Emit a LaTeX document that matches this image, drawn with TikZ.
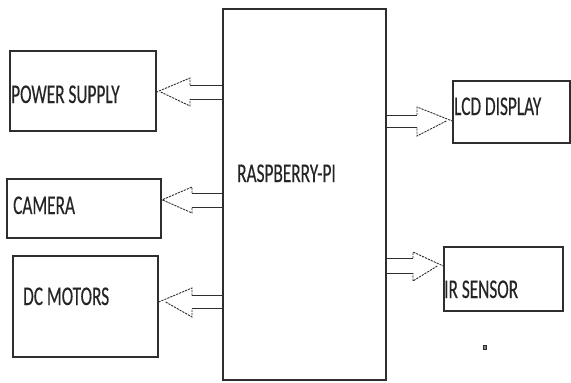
\documentclass[tikz,border=0pt]{standalone}
\usepackage{fontspec}
\usetikzlibrary{calc}
\newfontfamily\boxfont[FakeStretch=0.64,FakeBold=0.3]{Carlito}
\definecolor{linec}{HTML}{2E2E2E}
\definecolor{textc}{HTML}{252525}
\tikzset{
  blockbox/.style={draw=linec, line width=1.4pt, inner sep=0pt, fill=white},
  lbl/.style={anchor=base west, inner sep=0pt, text=textc, font=\boxfont\fontsize{27}{30}\selectfont},
  shaftline/.style={draw=linec, line width=0.9pt},
  headline/.style={draw=linec, line width=0.9pt, dash pattern=on 2.2pt off 1pt},
}
\begin{document}
\begin{tikzpicture}[x=1pt,y=-1pt]
\useasboundingbox (0,0) rectangle (571,383);
\fill[white] (0,0) rectangle (571,383);
% boxes
\node[blockbox, minimum width=146pt, minimum height=80pt]  (ps)  at (83,91) {};
\node[blockbox, minimum width=154pt, minimum height=59pt]  (cam) at (84,208.5) {};
\node[blockbox, minimum width=145pt, minimum height=101pt] (dc)  at (85.5,306.5) {};
\node[blockbox, minimum width=163pt, minimum height=371pt] (rpi) at (304.5,194.5) {};
\node[blockbox, minimum width=117pt, minimum height=62pt]  (lcd) at (511.5,112) {};
\node[blockbox, minimum width=119pt, minimum height=64pt]  (ir)  at (503.5,279) {};
% labels
\node[lbl] (psl)  at (11,103)  {POWER SUPPLY};
\node[lbl] (caml) at (13,214)  {CAMERA};
\node[lbl] (dcl)  at (23,305)  {DC MOTORS};
\node[lbl] (rpil) at (237,182) {RASPBERRY-PI};
\node[lbl] (lcdl) at (454,115) {LCD DISPLAY};
\node[lbl] (irl)  at (444,298) {IR SENSOR};
% left arrows (from rpi to left boxes)
\coordinate (a1s) at (rpi.west |- 0,92);
\draw[shaftline] ($(a1s)+(0,-7)$) -- (190,85) (190,99) -- ($(a1s)+(0,7)$);
\draw[headline] (190,85) -- (190,78) -- (ps.east |- 0,92) ++(4,0) -- (190,106) -- (190,99);
\coordinate (a2s) at (rpi.west |- 0,200);
\draw[shaftline] ($(a2s)+(0,-7)$) -- (192,193) (192,207) -- ($(a2s)+(0,7)$);
\draw[headline] (192,193) -- (192,187) -- (cam.east |- 0,200) ++(1,0) -- (192,213) -- (192,207);
\coordinate (a3s) at (rpi.west |- 0,302);
\draw[shaftline] ($(a3s)+(0,-6.5)$) -- (192,295.5) (192,308.5) -- ($(a3s)+(0,6.5)$);
\draw[headline] (192,295.5) -- (192,288) -- (dc.east |- 0,302) ++(7,0) -- (192,317) -- (192,308.5);
% right arrows
\coordinate (a4s) at (rpi.east |- 0,121);
\draw[shaftline] ($(a4s)+(0,-6)$) -- (417,115) (417,127) -- ($(a4s)+(0,6)$);
\draw[headline] (417,115) -- (417,107) -- (lcd.west |- 0,121) ++(-6,0) -- (417,136) -- (417,127);
\coordinate (a5s) at (rpi.east |- 0,265.5);
\draw[shaftline] ($(a5s)+(0,-7.5)$) -- (413,258) (413,273) -- ($(a5s)+(0,7.5)$);
\draw[headline] (413,258) -- (413,252) -- (ir.west |- 0,266) ++(-6,0) -- (413,281) -- (413,273);
% small mark
\draw[draw=linec, fill=linec!60, line width=0.8pt] (483,345) rectangle (486,349);
\end{tikzpicture}
\end{document}
